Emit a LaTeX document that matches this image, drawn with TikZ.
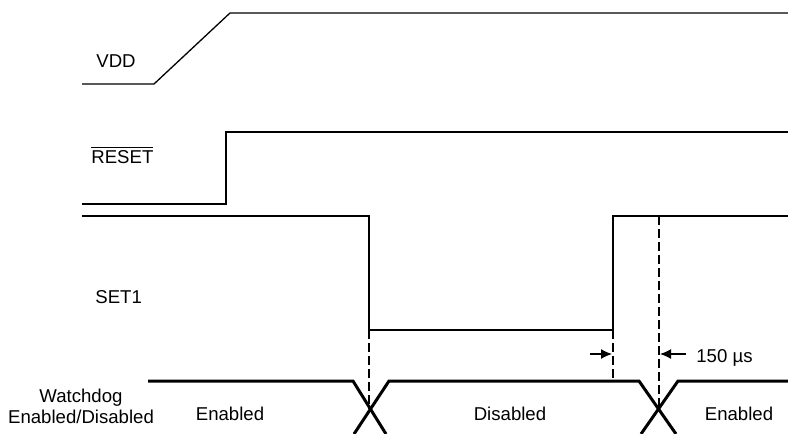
\documentclass[tikz,border=0pt]{standalone}
\usepackage{fontspec}
\setmainfont{Liberation Sans}
\usetikzlibrary{arrows.meta}
\usetikzlibrary{positioning}

\tikzset{
  wave/.style={line width=0.65pt, line join=miter},
  wdog/.style={line width=1.5pt},
  marker/.style={line width=0.65pt, dash pattern=on 4.5pt off 2pt},
  timing/.style={line width=0.65pt, -{Latex[length=5.5pt,width=5pt]}},
  lbl/.style={inner sep=0pt, anchor=base}
}

\begin{document}
\begin{tikzpicture}[x=0.5pt, y=-0.5pt, font=\fontsize{9.3}{11}\selectfont]
\useasboundingbox (0,0) rectangle (788,434);
% signal names
\node [lbl, anchor=base west] (VDD) at (96, 67) {VDD};
\node [lbl, anchor=base west] (RST) at (91, 163) {$\overline{\mbox{RESET}}$};
\node [lbl, anchor=base west] (SET) at (95, 303) {SET1};
\node [lbl] (WD) at (81, 402) {Watchdog};
\node [lbl] (WDS) at (81, 423) {Enabled/Disabled};
% waveforms
\draw [wave] (82, 84) -- (154, 84) -- (230, 13) -- (788, 13);
\draw [wave] (82, 204) -- (226, 204) -- (226, 132) -- (788, 132);
\draw [wave] (82, 216) -- (369, 216) -- (369, 330) -- (613, 330) -- (613, 216) -- (788, 216);
% watchdog state
\draw [wdog] (148, 381) -- (353, 381) -- (386, 434);
\draw [wdog] (354, 434) -- (389, 381) -- (639, 381) -- (676, 434);
\draw [wdog] (641, 434) -- (678, 381) -- (788, 381);
\node [lbl] (EN1) at (230, 420) {Enabled};
\node [lbl] (DIS) at (510, 420) {Disabled};
\node [lbl] (EN2) at (739, 420) {Enabled};
% markers
\coordinate (M1) at (369, 409);
\coordinate (M2) at (613, 381);
\coordinate (M3) at (659, 409);
\draw [marker] (369, 330) -- (M1);
\draw [marker] (613, 330) -- (M2);
\draw [marker] (659, 216) -- (M3);
\coordinate (A1) at (590, 354);
\coordinate (B1) at (612, 354);
\coordinate (A2) at (686, 354);
\coordinate (B2) at (660, 354);
\draw [timing] (A1) to (B1);
\draw [timing] (A2) to (B2);
\node [lbl, anchor=base west] (T) at (696, 362) {150 µs};
\end{tikzpicture}
\end{document}
